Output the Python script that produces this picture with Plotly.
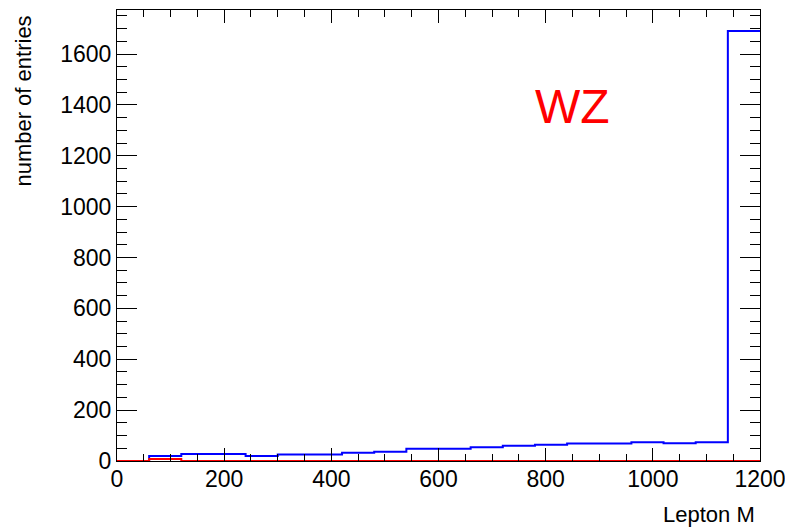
import plotly.graph_objects as go

# Histogram bin lower edges (bin width 60), upper limit of last bin
bin_low_edges = [0, 60, 120, 180, 240, 300, 360, 420, 480, 540,
                 600, 660, 720, 780, 840, 900, 960, 1020, 1080, 1140]
x_upper = 1200

# Blue histogram (WZ) counts
wz_counts = [0, 20, 28, 28, 20, 26, 26, 32, 36, 48,
             48, 54, 60, 64, 69, 69, 74, 70, 74, 1690]

# Red histogram counts
red_counts = [0, 8, 0, 0, 0, 0, 0, 0, 0, 0,
              0, 0, 0, 0, 0, 0, 0, 0, 0, 0]

x_ticks = [0, 200, 400, 600, 800, 1000, 1200]
y_ticks = [0, 200, 400, 600, 800, 1000, 1200, 1400, 1600]

FONT = "Liberation Sans, Arial, Helvetica, sans-serif"


def step_xy(edges, counts, upper):
    xs = list(edges) + [upper]
    ys = list(counts) + [counts[-1]]
    return xs, ys


fig = go.Figure()

bx, by = step_xy(bin_low_edges, wz_counts, x_upper)
fig.add_trace(go.Scatter(x=bx, y=by, mode="lines", line_shape="hv",
                         line=dict(color="#0000ff", width=2),
                         hoverinfo="skip", showlegend=False))

rx, ry = step_xy(bin_low_edges, red_counts, x_upper)
fig.add_trace(go.Scatter(x=rx, y=ry, mode="lines", line_shape="hv",
                         line=dict(color="#ff0000", width=2),
                         hoverinfo="skip", showlegend=False))

fig.add_annotation(x=851, y=1395, xref="x", yref="y", text="WZ",
                   showarrow=False, font=dict(family=FONT, size=48, color="#ff0000"),
                   xanchor="center", yanchor="middle")

fig.add_annotation(x=0.9953, y=-0.1508, xref="paper", yref="paper", text="Lepton M",
                   showarrow=False, font=dict(family=FONT, size=22, color="black"),
                   xanchor="right", yanchor="bottom")

fig.add_annotation(x=-0.1446, y=0.991, xref="paper", yref="paper", text="number of entries",
                   textangle=-90, showarrow=False,
                   font=dict(family=FONT, size=22, color="black"),
                   xanchor="center", yanchor="top")

fig.update_xaxes(range=[0, 1200], tickvals=x_ticks, ticktext=[str(v) for v in x_ticks],
                 ticks="inside", ticklen=13, tickwidth=1, tickcolor="black",
                 minor=dict(dtick=50, tick0=0, ticks="inside", ticklen=7, tickcolor="black", tickwidth=1),
                 showline=True, linecolor="black", linewidth=1, mirror="allticks",
                 showgrid=False, zeroline=False, automargin=False,
                 tickfont=dict(family=FONT, size=23, color="black"),
                 ticklabelstandoff=-3, ticklabeloverflow="allow")

fig.update_yaxes(range=[0, 1773], tickvals=y_ticks, ticktext=[str(v) for v in y_ticks],
                 ticks="inside", ticklen=20, tickwidth=1, tickcolor="black",
                 minor=dict(dtick=50, tick0=0, ticks="inside", ticklen=10, tickcolor="black", tickwidth=1),
                 showline=True, linecolor="black", linewidth=1, mirror="allticks",
                 showgrid=False, zeroline=False, automargin=False,
                 tickfont=dict(family=FONT, size=23, color="black"),
                 ticklabelstandoff=0)

fig.update_layout(width=785, height=529,
                  margin=dict(l=117, r=25, t=10, b=68, pad=0, autoexpand=False),
                  paper_bgcolor="white", plot_bgcolor="white",
                  font=dict(family=FONT, color="black"))

# Remove the browser's default 8px page margin so the figure fills the window.
fig.write_html("out.html",
               config={"displayModeBar": False},
               post_script="document.body.style.margin='0';document.body.style.overflow='hidden';")
